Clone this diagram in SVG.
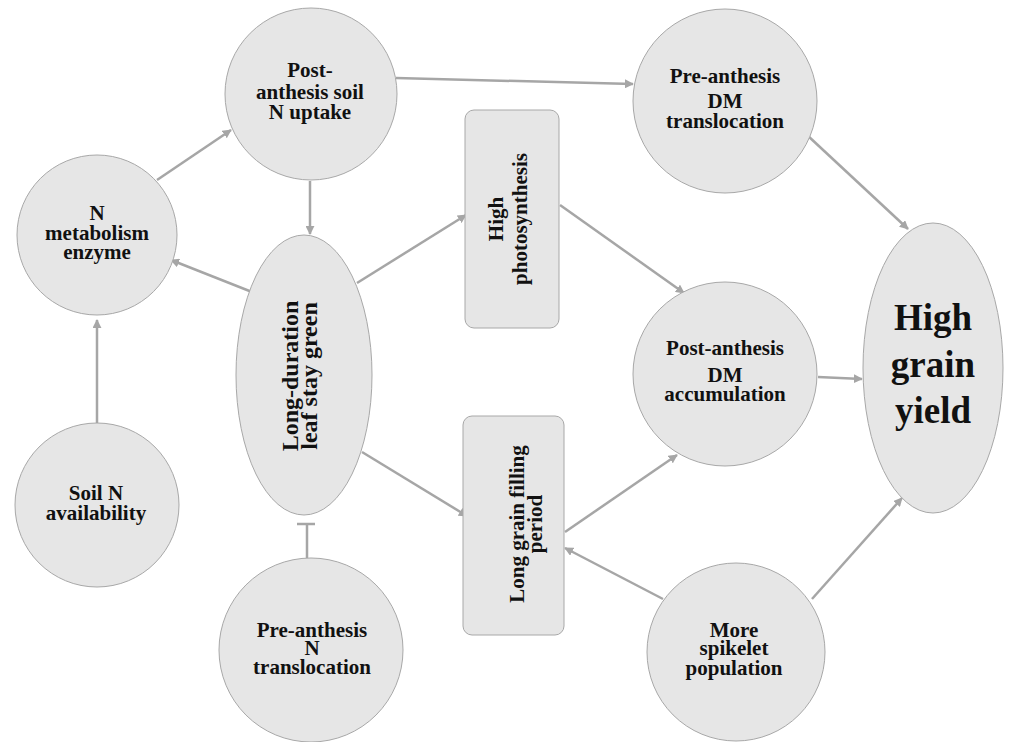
<svg xmlns="http://www.w3.org/2000/svg" width="1010" height="742" viewBox="0 0 1010 742">
<style>
.node{fill:#e6e6e6;stroke:#a8a8a8;stroke-width:1}
.t{font-family:"Liberation Serif","Times New Roman",serif;font-weight:bold;font-size:21px;fill:#111;text-anchor:middle}
.big{font-size:37px}
.e{stroke:#a6a6a6;stroke-width:2.5;fill:none}
.a{marker-end:url(#ah)}
</style>
<defs>
<marker id="ah" viewBox="0 0 10 10" refX="9" refY="5" markerWidth="3.6" markerHeight="3.6" orient="auto" markerUnits="strokeWidth">
<path d="M0,0 L10,5 L0,10 z" fill="#a6a6a6"/>
</marker>
</defs>
<rect width="1010" height="742" fill="#fff"/>
<g id="connectors">
<line class="e a" x1="396" y1="78" x2="633" y2="84"/>
<line class="e a" x1="157" y1="180" x2="231" y2="130"/>
<line class="e a" x1="310" y1="181" x2="310" y2="234"/>
<line class="e a" x1="252" y1="292" x2="171" y2="260"/>
<line class="e a" x1="97" y1="423" x2="97" y2="320"/>
<line class="e a" x1="357" y1="283" x2="466" y2="215"/>
<line class="e a" x1="362" y1="452" x2="467" y2="516"/>
<line class="e" x1="307" y1="558" x2="307" y2="524"/>
<line class="e" x1="297" y1="524" x2="315" y2="524"/>
<line class="e a" x1="560" y1="205" x2="684" y2="293"/>
<line class="e a" x1="807" y1="135" x2="908" y2="229"/>
<line class="e a" x1="818" y1="377" x2="862" y2="379"/>
<line class="e a" x1="565" y1="532" x2="677" y2="455"/>
<line class="e a" x1="663" y1="599" x2="565" y2="548"/>
<line class="e a" x1="812" y1="599" x2="902" y2="498"/>
</g>
<g id="n-uptake">
<circle class="node" cx="311" cy="94" r="86"/>
<text class="t" x="310" y="77">Post-</text>
<text class="t" x="310" y="99">anthesis soil</text>
<text class="t" x="310" y="119">N uptake</text>
</g>
<g id="n-metab">
<circle class="node" cx="97" cy="235" r="80"/>
<text class="t" x="97" y="220">N</text>
<text class="t" x="97" y="240">metabolism</text>
<text class="t" x="97" y="259">enzyme</text>
</g>
<g id="n-leaf">
<ellipse class="node" cx="304" cy="375" rx="68" ry="140"/>
<text class="t" style="font-size:24px" transform="translate(298,376) rotate(-90)">Long-duration</text>
<text class="t" style="font-size:24px" transform="translate(317,376) rotate(-90)">leaf stay green</text>
</g>
<g id="n-soil">
<circle class="node" cx="97" cy="505" r="82"/>
<text class="t" x="96" y="500">Soil N</text>
<text class="t" x="96" y="520">availability</text>
</g>
<g id="n-preN">
<circle class="node" cx="311" cy="650" r="92"/>
<text class="t" x="312" y="637">Pre-anthesis</text>
<text class="t" x="312" y="655">N</text>
<text class="t" x="312" y="674">translocation</text>
</g>
<g id="n-photo">
<rect class="node" x="465" y="110" width="94" height="218" rx="9"/>
<text class="t" transform="translate(503,219) rotate(-90)">High</text>
<text class="t" transform="translate(527,219) rotate(-90)">photosynthesis</text>
</g>
<g id="n-filling">
<rect class="node" x="463" y="416" width="101" height="219" rx="9"/>
<text class="t" transform="translate(524,524) rotate(-90)">Long grain filling</text>
<text class="t" transform="translate(542,524) rotate(-90)">period</text>
</g>
<g id="n-preDM">
<circle class="node" cx="725" cy="101" r="92"/>
<text class="t" x="725" y="83">Pre-anthesis</text>
<text class="t" x="725" y="108">DM</text>
<text class="t" x="725" y="128">translocation</text>
</g>
<g id="n-postDM">
<circle class="node" cx="725" cy="374" r="92"/>
<text class="t" x="725" y="355">Post-anthesis</text>
<text class="t" x="725" y="382">DM</text>
<text class="t" x="725" y="401">accumulation</text>
</g>
<g id="n-spikelet">
<circle class="node" cx="736" cy="652" r="89"/>
<text class="t" x="734" y="637">More</text>
<text class="t" x="734" y="655">spikelet</text>
<text class="t" x="734" y="675">population</text>
</g>
<g id="n-yield">
<ellipse class="node" cx="933" cy="368" rx="70" ry="145"/>
<text class="t big" x="933" y="330">High</text>
<text class="t big" x="933" y="377">grain</text>
<text class="t big" x="933" y="423">yield</text>
</g>
</svg>
